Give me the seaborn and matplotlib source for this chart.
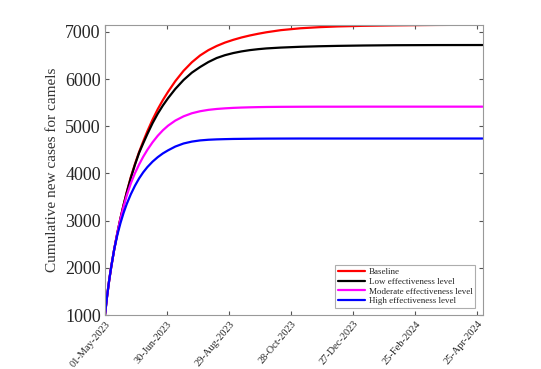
import matplotlib
matplotlib.use("Agg")
import matplotlib.pyplot as plt
import matplotlib.dates as mdates
import numpy as np
import pandas as pd
import seaborn as sns

# days since 01-May-2023
days = [0, 2, 4, 6, 9, 12, 15, 18, 21, 25, 29, 33, 37, 41, 46, 51, 56, 61, 68, 76,
        84, 92, 100, 108, 116, 124, 132, 140, 148, 156, 170, 189, 207, 225, 250,
        280, 320, 365]
baseline = [1000, 1390, 1725, 2015, 2400, 2740, 3050, 3335, 3600, 3925, 4200, 4455,
            4680, 4895, 5140, 5360, 5555, 5730, 5955, 6175, 6355, 6500, 6612, 6700,
            6772, 6830, 6880, 6922, 6958, 6990, 7035, 7075, 7098, 7114, 7127, 7136,
            7145, 7150]
low = [1000, 1390, 1725, 2015, 2400, 2740, 3050, 3330, 3590, 3905, 4185, 4437,
       4640, 4835, 5065, 5265, 5440, 5595, 5790, 5980, 6135, 6255, 6360, 6445,
       6505, 6550, 6585, 6612, 6632, 6648, 6666, 6683, 6694, 6702, 6710, 6716,
       6719, 6720]
moderate = [1000, 1390, 1725, 2015, 2400, 2740, 3040, 3300, 3530, 3790, 4005, 4190,
            4355, 4500, 4660, 4798, 4915, 5012, 5120, 5210, 5275, 5318, 5347, 5366,
            5379, 5389, 5396, 5401, 5405, 5408, 5411, 5413, 5414, 5414, 5415, 5415,
            5415, 5415]
high = [1000, 1390, 1725, 2015, 2400, 2700, 2950, 3165, 3350, 3560, 3740, 3895,
        4025, 4135, 4250, 4345, 4425, 4490, 4570, 4635, 4675, 4700, 4714, 4722,
        4727, 4731, 4733, 4735, 4737, 4738, 4739, 4740, 4740, 4740, 4740, 4740,
        4740, 4740]

labels = ["Baseline", "Low effectiveness level",
          "Moderate effectiveness level", "High effectiveness level"]
colors = ["#ff0000", "#000000", "#ff00ff", "#0000ff"]

start = pd.Timestamp("2023-05-01")
dates = start + pd.to_timedelta(days, unit="D")
frames = []
for lab, vals in zip(labels, [baseline, low, moderate, high]):
    frames.append(pd.DataFrame({"date": dates, "cases": vals, "scenario": lab}))
data = pd.concat(frames, ignore_index=True)

sns.set_style("white")
plt.rcParams["font.family"] = ["Liberation Serif", "DejaVu Serif"]

fig = plt.figure(figsize=(5.41, 3.69), dpi=100)
ax = fig.add_axes([0.194, 0.146, 0.698, 0.787])

sns.lineplot(data=data, x="date", y="cases", hue="scenario", hue_order=labels,
             palette=dict(zip(labels, colors)), linewidth=1.6, ax=ax)

ax.set_xlim(start, start + pd.Timedelta(days=365))
ax.set_ylim(1000, 7150)
ticks = [start + pd.Timedelta(days=60 * i) for i in range(7)]
ax.set_xticks(ticks)
ax.xaxis.set_major_formatter(mdates.DateFormatter("%d-%b-%Y"))
ax.set_yticks([1000, 2000, 3000, 4000, 5000, 6000, 7000])
plt.setp(ax.get_xticklabels(), rotation=50, ha="right", rotation_mode="anchor",
         fontsize=7.5, color="#262626")
plt.setp(ax.get_yticklabels(), fontsize=13, color="#262626")
ax.tick_params(direction="in", length=3, color="#555555", top=True, right=True,
               bottom=True, left=True, pad=3)
for s in ax.spines.values():
    s.set_color("#999999")
    s.set_linewidth(0.8)

ax.set_xlabel("")
ax.set_ylabel("Cumulative new cases for camels", fontsize=11, color="#333333")

leg = ax.legend(loc="lower right", fontsize=6.5, frameon=True, fancybox=False,
                edgecolor="#999999", handlelength=3.0, borderaxespad=0.8,
                labelspacing=0.15, borderpad=0.3, handletextpad=0.4)
leg.get_frame().set_linewidth(0.8)
for line in leg.get_lines():
    line.set_linewidth(1.6)

fig.savefig("out.png", dpi=100)
